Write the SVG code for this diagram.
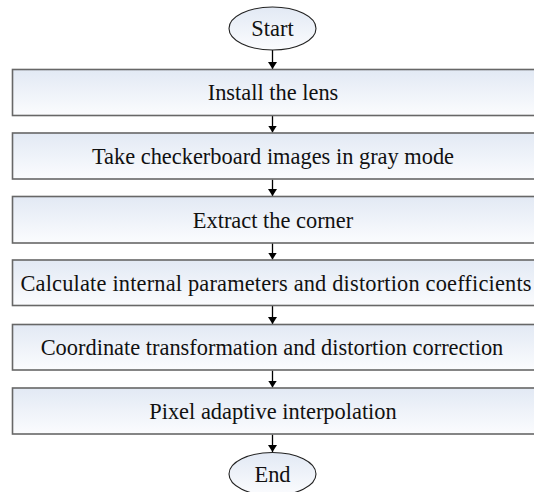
<svg xmlns="http://www.w3.org/2000/svg" width="534" height="492" viewBox="0 0 534 492" font-family="Liberation Serif, Times New Roman, serif">
  <defs>
    <linearGradient id="boxFill" x1="0" y1="0" x2="0" y2="1">
      <stop offset="0" stop-color="#e2e9f4"/>
      <stop offset="1" stop-color="#fbfcfe"/>
    </linearGradient>
    <marker id="arrow" markerWidth="8" markerHeight="9" refX="7" refY="4.5" orient="auto" markerUnits="userSpaceOnUse">
      <path d="M0,0 L7,4.5 L0,9 Z" fill="#000"/>
    </marker>
  </defs>
  <style>
    .box { fill: url(#boxFill); stroke: #676767; stroke-width: 1.6; }
    .oval { fill: url(#boxFill); stroke: #222; stroke-width: 1.1; }
    .label { font-size: 22.4px; fill: #111; text-anchor: middle; }
    .conn { stroke: #000; stroke-width: 1.3; fill: none; marker-end: url(#arrow); }
  </style>

  <g id="connectors">
    <line class="conn" x1="272.5" y1="50" x2="272.5" y2="69"/>
    <line class="conn" x1="272.5" y1="116" x2="272.5" y2="132.5"/>
    <line class="conn" x1="272.5" y1="179.5" x2="272.5" y2="196"/>
    <line class="conn" x1="272.5" y1="243" x2="272.5" y2="259.5"/>
    <line class="conn" x1="272.5" y1="306" x2="272.5" y2="324"/>
    <line class="conn" x1="272.5" y1="370.5" x2="272.5" y2="387.5"/>
    <line class="conn" x1="272.5" y1="434.5" x2="272.5" y2="452"/>
  </g>

  <g id="start">
    <ellipse class="oval" cx="272.5" cy="28.5" rx="43.5" ry="21.5"/>
    <text class="label" x="272.5" y="36">Start</text>
  </g>

  <g id="install-lens">
    <rect class="box" x="12.5" y="69.5" width="524" height="46"/>
    <text class="label" x="273" y="100">Install the lens</text>
  </g>

  <g id="take-images">
    <rect class="box" x="12.5" y="133" width="524" height="46"/>
    <text class="label" x="273" y="163.5">Take checkerboard images in gray mode</text>
  </g>

  <g id="extract-corner">
    <rect class="box" x="12.5" y="196.5" width="524" height="46.5"/>
    <text class="label" x="273" y="227.5">Extract the corner</text>
  </g>

  <g id="calculate-parameters">
    <rect class="box" x="12.5" y="260" width="524" height="45.5"/>
    <text class="label" x="20.5" y="291" style="text-anchor: start" textLength="511" lengthAdjust="spacing">Calculate internal parameters and distortion coefficients</text>
  </g>

  <g id="coordinate-transformation">
    <rect class="box" x="12.5" y="324.5" width="524" height="45.5"/>
    <text class="label" x="272" y="355">Coordinate transformation and distortion correction</text>
  </g>

  <g id="pixel-interpolation">
    <rect class="box" x="12.5" y="388" width="524" height="46"/>
    <text class="label" x="273" y="418.5">Pixel adaptive interpolation</text>
  </g>

  <g id="end">
    <ellipse class="oval" cx="272.5" cy="474" rx="43.5" ry="21.5"/>
    <text class="label" x="272.5" y="482">End</text>
  </g>
</svg>
